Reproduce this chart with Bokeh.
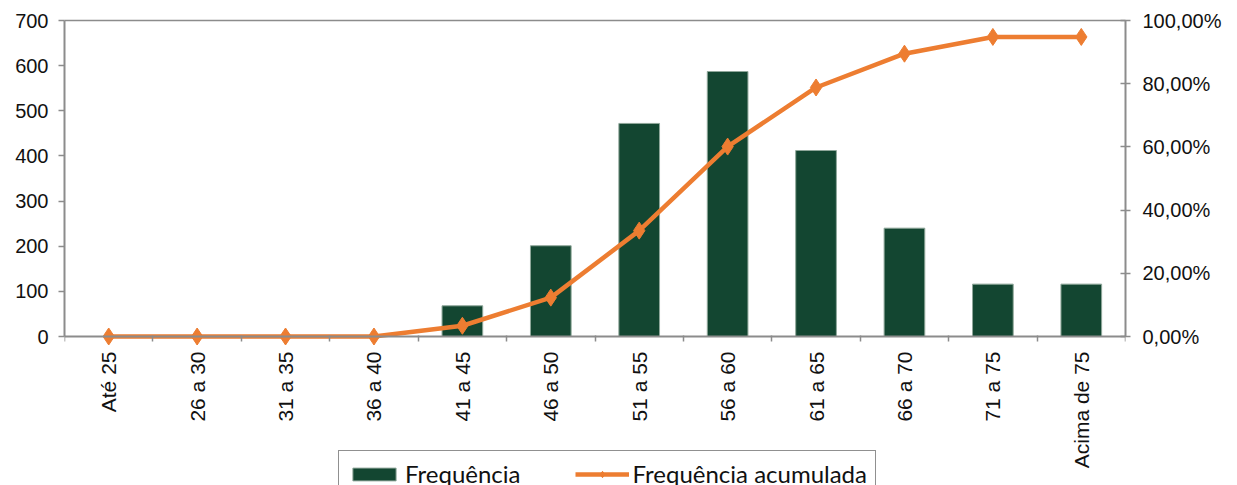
import math
from bokeh.plotting import figure
from bokeh.models import (Range1d, LinearAxis, FixedTicker, Legend, LegendItem,
                          ColumnDataSource)
from bokeh.embed import file_html
from bokeh.resources import INLINE

# ---- data ----
categories = ["Até 25", "26 a 30", "31 a 35", "36 a 40", "41 a 45", "46 a 50",
              "51 a 55", "56 a 60", "61 a 65", "66 a 70", "71 a 75", "Acima de 75"]
frequencia = [0, 0, 0, 0, 68, 201, 472, 587, 412, 240, 116, 116]
acumulada_pct = [0.0, 0.0, 0.0, 0.0, 3.4, 12.3, 33.5, 60.1, 78.8, 89.5, 94.8, 94.8]
left_ticks = [0, 100, 200, 300, 400, 500, 600, 700]
right_ticks = [0, 20, 40, 60, 80, 100]
right_labels = ["0,00%", "20,00%", "40,00%", "60,00%", "80,00%", "100,00%"]

GREEN = "#134631"
ORANGE = "#ED7D31"
GREY = "#8c8c8c"
TXT = "#111111"
AXFONT = "Liberation Sans"

# layout: value area is 316 px tall; the frame continues 149 px below zero
# so that the legend (drawn in the frame) can sit under the category labels
PLOT_H = 316
BELOW = 149
LEFT_MAX = 700
RIGHT_MAX = 100
left_min = -LEFT_MAX * BELOW / PLOT_H
right_min = -RIGHT_MAX * BELOW / PLOT_H

n = len(categories)
xs = [i + 0.5 for i in range(n)]
src = ColumnDataSource(dict(x=xs, freq=frequencia, cum=acumulada_pct, cat=categories))

p = figure(frame_width=1061, frame_height=PLOT_H + BELOW, output_backend="svg",
           toolbar_location=None,
           x_range=Range1d(0, n), y_range=Range1d(left_min, LEFT_MAX),
           min_border_left=64, min_border_right=112, min_border_top=20,
           min_border_bottom=0, x_axis_location="below")
p.extra_y_ranges = {"pct": Range1d(right_min, RIGHT_MAX)}
p.xgrid.visible = False
p.ygrid.visible = False
p.outline_line_color = None
p.background_fill_color = "white"
p.border_fill_color = "white"

bars = p.vbar(x="x", top="freq", width=0.46, source=src, fill_color=GREEN,
              line_color="#8fa79a", line_width=1)
line = p.line(x="x", y="cum", source=src, y_range_name="pct", line_color=ORANGE,
              line_width=4.5)
pts = p.scatter(x="x", y="cum", source=src, y_range_name="pct", marker="diamond",
                size=17, fill_color=ORANGE, line_color=ORANGE)

# x axis: drawn at value 0, labels at centres, ticks at boundaries
xa = p.xaxis[0]
xa.fixed_location = 0
xa.ticker = FixedTicker(ticks=xs, minor_ticks=list(range(n + 1)))
xa.major_label_overrides = {x: c for x, c in zip(xs, categories)}
xa.major_label_orientation = math.pi / 2
xa.major_tick_line_color = None
xa.major_tick_out = 0
xa.major_tick_in = 0
xa.minor_tick_out = 5
xa.minor_tick_in = 1
xa.minor_tick_line_color = GREY
xa.minor_tick_line_width = 1.5
xa.axis_line_color = GREY
xa.axis_line_width = 2
xa.major_label_standoff = 10
xa.major_label_text_font = AXFONT
xa.major_label_text_font_size = "21px"
xa.major_label_text_color = TXT

# top border line
ta = LinearAxis(ticker=FixedTicker(ticks=[], minor_ticks=[]))
ta.axis_line_color = GREY
ta.axis_line_width = 1.5
ta.major_tick_out = 0
ta.major_tick_in = 0
ta.major_label_standoff = 0
p.add_layout(ta, "above")

ya = p.yaxis[0]
ya.bounds = (0, LEFT_MAX)
ya.ticker = FixedTicker(ticks=left_ticks, minor_ticks=[])
ya.major_tick_out = 6
ya.major_tick_in = 0
ya.major_tick_line_color = GREY
ya.major_tick_line_width = 1.5
ya.axis_line_color = GREY
ya.axis_line_width = 2
ya.major_label_standoff = 10
ya.major_label_text_font = AXFONT
ya.major_label_text_font_size = "20px"
ya.major_label_text_color = TXT

ra = LinearAxis(y_range_name="pct", bounds=(0, RIGHT_MAX),
                ticker=FixedTicker(ticks=right_ticks, minor_ticks=[]))
ra.major_label_overrides = {t: l for t, l in zip(right_ticks, right_labels)}
ra.major_tick_out = 5
ra.major_tick_in = 5
ra.major_tick_line_color = GREY
ra.major_tick_line_width = 1.5
ra.minor_tick_line_color = None
ra.axis_line_color = GREY
ra.axis_line_width = 2
ra.major_label_standoff = 12
ra.major_label_text_font = AXFONT
ra.major_label_text_font_size = "20px"
ra.major_label_text_color = TXT
p.add_layout(ra, "right")

legend = Legend(items=[LegendItem(label="Frequência", renderers=[bars]),
                       LegendItem(label="Frequência acumulada", renderers=[line, pts])],
                orientation="horizontal", location=(274, -12),
                border_line_color="#222222", border_line_width=1.5,
                background_fill_color="white", background_fill_alpha=1.0,
                label_text_font="Lato", label_text_font_size="24px",
                label_text_color=TXT, glyph_width=54, glyph_height=16,
                label_standoff=4, spacing=54, padding=8, margin=0)
p.add_layout(legend, "center")

open("out.html", "w").write(file_html(p, INLINE))
